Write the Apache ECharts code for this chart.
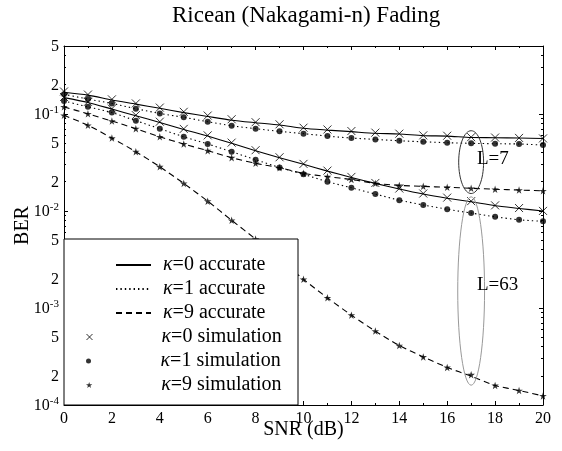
<!DOCTYPE html>
<html><head><meta charset="utf-8">
<script src="https://cdn.jsdelivr.net/npm/echarts@6/dist/echarts.min.js"></script>
<style>html,body{margin:0;padding:0;background:#fff}#c{width:562px;height:451px}</style>
</head><body><div id="c"></div>
<script>
// ---- data ----
const snr = [0,1,2,3,4,5,6,7,8,9,10,11,12,13,14,15,16,17,18,19,20];
// accurate (analytical) curves
const accK0L7  = [0.167,0.156,0.139,0.126,0.114,0.103,0.094,0.086,0.081,0.0767,0.071,0.068,0.0655,0.063,0.062,0.0595,0.059,0.057,0.0568,0.0563,0.0558];
const accK1L7  = [0.159,0.142,0.128,0.113,0.101,0.092,0.083,0.0754,0.0703,0.066,0.0625,0.059,0.0563,0.0545,0.0528,0.0515,0.0504,0.0497,0.0492,0.0489,0.0477];
const accK9L7  = [0.118,0.100,0.0843,0.0703,0.058,0.0489,0.0417,0.0353,0.0309,0.0278,0.0244,0.0225,0.0211,0.0192,0.0183,0.0179,0.0175,0.0171,0.0167,0.0164,0.0161];
const accK0L63 = [0.147,0.131,0.112,0.0955,0.0816,0.069,0.059,0.0497,0.0417,0.0353,0.0302,0.0257,0.0221,0.0192,0.0168,0.0149,0.0135,0.0124,0.0113,0.0106,0.00996];
const accK1L63 = [0.1355,0.118,0.103,0.085,0.0703,0.058,0.0489,0.0407,0.0337,0.028,0.0238,0.020,0.0173,0.0149,0.0129,0.0115,0.0104,0.0095,0.0087,0.0081,0.0078];
const accK9L63 = [0.0966,0.0762,0.0563,0.0407,0.0285,0.0192,0.0126,0.008,0.00512,0.0032,0.00197,0.00127,0.000843,0.000577,0.00041,0.000313,0.000244,0.000198,0.000159,0.000141,0.000124];
// simulation points
const simK0L7  = [0.170,0.158,0.141,0.128,0.116,0.105,0.096,0.088,0.082,0.078,0.072,0.069,0.0665,0.064,0.0625,0.060,0.0595,0.0575,0.057,0.0565,0.0558];
const simK1L7  = [0.159,0.142,0.128,0.113,0.101,0.092,0.083,0.0754,0.0703,0.066,0.0625,0.059,0.0563,0.0545,0.0528,0.0515,0.0504,0.0497,0.0492,0.0489,0.0477];
const simK9L7  = [0.118,0.100,0.0843,0.0703,0.058,0.0489,0.0417,0.0353,0.0309,0.0278,0.0244,0.0225,0.0211,0.0192,0.0183,0.0179,0.0175,0.0171,0.0167,0.0164,0.0161];
const simK0L63 = [0.149,0.133,0.113,0.097,0.083,0.070,0.060,0.0505,0.0422,0.0357,0.0305,0.026,0.0224,0.0194,0.017,0.0151,0.0137,0.0126,0.0114,0.0107,0.0100];
const simK1L63 = [0.1355,0.118,0.103,0.085,0.0703,0.058,0.0489,0.0407,0.0337,0.028,0.0238,0.020,0.0173,0.0149,0.0129,0.0115,0.0104,0.0095,0.0087,0.0081,0.0078];
const simK9L63 = [0.0966,0.0762,0.0563,0.0407,0.0285,0.0192,0.0126,0.008,0.00512,0.0032,0.00197,0.00127,0.000843,0.000577,0.00041,0.000313,0.000244,0.000205,0.000159,0.000141,0.000124];
// axis ticks / labels
const xTickLabels = [0,2,4,6,8,10,12,14,16,18,20];
const yLabelVals = [1e-4,2e-4,5e-4,1e-3,2e-3,5e-3,1e-2,2e-2,5e-2,1e-1,2e-1,5e-1];
const yDecades = [1e-4,1e-3,1e-2,1e-1];
const yMinorMult = [2,3,4,5,6,7,8,9];
const legendNames = ['κ=0 accurate','κ=1 accurate','κ=9 accurate','κ=0 simulation','κ=1 simulation','κ=9 simulation'];

// ---- build ----
const FONT = '"Liberation Serif","Times New Roman",serif';
const lg = v => Math.log10(v);
const pairs = arr => arr.map((v,i)=>[snr[i], v]);
const yMin = 1e-4, yMax = 0.5;
const yMinor = [];
yDecades.forEach(d => yMinorMult.forEach(m => { const v = d*m; if (v <= yMax*1.0001) yMinor.push(v); }));

const crossPath = 'path://M0,0L10,10M10,0L0,10';
const starPath = 'path://M50,0L61.2,34.5L97.6,34.5L68.2,55.9L79.4,90.5L50,69.1L20.6,90.5L31.8,55.9L2.4,34.5L38.8,34.5Z';

const lineTypes = {solid:'solid', dotted:[1.4,3], dashed:[6,4]};
function lineSeries(name, arr, t){
  return {name, type:'line', data:pairs(arr), symbol:'none', smooth:0.25, color:'#000',
    lineStyle:{color:'#000', width:1.1, type:lineTypes[t]}, z:3, silent:true};
}
function simSeries(name, arr, kind){
  const s = {name, type:'scatter', data:pairs(arr), color:'#000', z:4, silent:true};
  if (kind==='x'){ s.symbol = crossPath; s.symbolSize = 8; s.itemStyle = {color:'rgba(0,0,0,0)', borderColor:'#000', borderWidth:1}; }
  if (kind==='o'){ s.symbol = 'circle'; s.symbolSize = 6; s.itemStyle = {color:'#000'}; }
  if (kind==='*'){ s.symbol = starPath; s.symbolSize = 7.5; s.itemStyle = {color:'#000'}; }
  return s;
}

const series = [
  lineSeries(legendNames[0], accK0L7, 'solid'),
  lineSeries(legendNames[0], accK0L63, 'solid'),
  lineSeries(legendNames[1], accK1L7, 'dotted'),
  lineSeries(legendNames[1], accK1L63, 'dotted'),
  lineSeries(legendNames[2], accK9L7, 'dashed'),
  lineSeries(legendNames[2], accK9L63, 'dashed'),
  simSeries(legendNames[3], simK0L7, 'x'),
  simSeries(legendNames[3], simK0L63, 'x'),
  simSeries(legendNames[4], simK1L7, 'o'),
  simSeries(legendNames[4], simK1L63, 'o'),
  simSeries(legendNames[5], simK9L7, '*'),
  simSeries(legendNames[5], simK9L63, '*')
];

function yLabelFmt(v){
  const e = Math.floor(v + 1e-9);
  const m = Math.round(Math.pow(10, v - e));
  if (m === 1) return '{b|10}{s|' + e + '}';
  return '{b|' + m + '}';
}
const axisLineBlack = {show:true, lineStyle:{color:'#000', width:1}};
function xAx(pos, labels){
  return {type:'value', min:0, max:20, interval:2, position:pos,
    axisLine: axisLineBlack,
    axisTick:{show:true, inside:true, length:4, lineStyle:{color:'#000'}},
    minorTick:{show:true, splitNumber:2, length:2, lineStyle:{color:'#000'}},
    splitLine:{show:false}, minorSplitLine:{show:false},
    axisLabel:{show:labels, fontFamily:FONT, fontSize:16, color:'#000', margin:6,
      formatter: v => xTickLabels.indexOf(v) >= 0 ? String(v) : ''},
    name: labels ? 'SNR (dB)' : '', nameLocation:'middle', nameGap:15, nameMoveOverlap:false,
    nameTextStyle:{fontFamily:FONT, fontSize:20, color:'#000'}};
}
function yTickAx(pos, vals, len, labels){
  return {type:'value', min:lg(yMin), max:lg(yMax), position:pos,
    axisLine:{show:false}, splitLine:{show:false},
    axisTick:{show:true, inside:true, length:len, lineStyle:{color:'#000'}, customValues: vals.map(lg)},
    axisLabel: labels ? {show:true, customValues: yLabelVals.map(lg), formatter: yLabelFmt, margin:5, color:'#000',
      rich:{ b:{fontFamily:FONT, fontSize:16, color:'#000', lineHeight:18, verticalAlign:'bottom'},
             s:{fontFamily:FONT, fontSize:11, color:'#000', verticalAlign:'top', lineHeight:11} } } : {show:false}};
}

const simIcons = [crossPath, 'circle', starPath];
const legends = legendNames.map((n,i) => {
  const isLine = i < 3;
  const iw = isLine ? 35 : 14;
  const left = isLine ? 115 : 86;
  const ih = isLine ? 14 : [6,5,6][i-3];
  const gap = isLine ? 162 - (left + iw + 5) : 60;
  const item = {name:n};
  if (!isLine) {
    item.icon = simIcons[i-3];
    item.itemStyle = i === 3 ? {color:'rgba(0,0,0,0)', borderColor:'#000', borderWidth:1} : {color:'#000', borderWidth:0};
  }
  const lg0 = {data:[item], orient:'vertical', left:left, top:253 + 24*i, padding:0, itemGap:0,
    itemWidth:iw, itemHeight:ih, selectedMode:false, z:60,
    formatter: name => '{g| }{k|κ}' + name.slice(1),
    textStyle:{fontFamily:FONT, fontSize:20, color:'#000', lineHeight:24,
      rich:{g:{width:gap, fontSize:20, lineHeight:24}, k:{fontFamily:FONT, fontSize:20, fontStyle:'italic', color:'#000', lineHeight:24}}}};
  if (isLine) lg0.itemStyle = {opacity:0, color:'rgba(0,0,0,0)', borderWidth:0};
  return lg0;
});

const chart = echarts.init(document.getElementById('c'));
chart.setOption({
  animation:false,
  backgroundColor:'#fff',
  title:{text:'Ricean (Nakagami-n) Fading', left:172, top:0, padding:[3,0,0,0],
    textStyle:{fontFamily:FONT, fontSize:23, fontWeight:'normal', color:'#000', lineHeight:26}},
  grid:{left:64, right:19, top:46, bottom:46, containLabel:false, outerBoundsMode:'none'},
  xAxis:[xAx('bottom', true), xAx('top', false)],
  yAxis:[
    {type:'log', logBase:10, min:yMin, max:yMax, position:'left',
      axisLine:axisLineBlack, axisTick:{show:false}, axisLabel:{show:false}, splitLine:{show:false}, minorTick:{show:false},
      name:'BER', nameLocation:'middle', nameGap:31, nameRotate:90, nameMoveOverlap:false,
      nameTextStyle:{fontFamily:FONT, fontSize:20, color:'#000'}},
    yTickAx('left', yDecades, 4, true),
    yTickAx('left', yMinor, 2, false),
    Object.assign(yTickAx('right', yDecades, 4, false), {axisLine:axisLineBlack}),
    yTickAx('right', yMinor, 2, false)
  ],
  legend: legends,
  series: series
});

// annotations (ellipses + L labels), placed in data coordinates
const P = (x,y) => chart.convertToPixel({xAxisIndex:0, yAxisIndex:0}, [x,y]);
function ellipse(xc, halfW, yTop, yBot, color){
  const a = P(xc - halfW, yTop), b = P(xc + halfW, yBot);
  return {type:'ellipse', z:40, silent:true,
    shape:{cx:(a[0]+b[0])/2, cy:(a[1]+b[1])/2, rx:(b[0]-a[0])/2, ry:(b[1]-a[1])/2},
    style:{fill:'none', stroke:color, lineWidth:1}};
}
function label(txt, x, y){
  const p = P(x,y);
  return {type:'text', z:41, silent:true, x:p[0], y:p[1],
    style:{text:txt, fontFamily:FONT, fontSize:19, fill:'#000', align:'left', verticalAlign:'middle'}};
}
chart.setOption({graphic:[
  ellipse(17, 0.52, 0.067, 0.0151, '#333'),
  ellipse(17, 0.56, 0.01397, 1.6e-4, '#999'),
  label('L=7', 17.24, 0.0342),
  label('L=63', 17.24, 0.00172),
  {type:'rect', z:50, silent:true, shape:{x:64, y:239, width:234, height:166},
    style:{fill:'#fff', stroke:'#000', lineWidth:1}}
]});
</script></body></html>
